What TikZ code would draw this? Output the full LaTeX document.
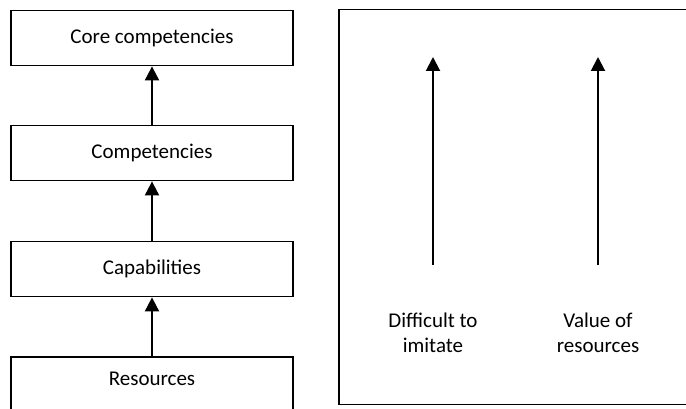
\documentclass[tikz,border=0pt]{standalone}
\usepackage{fontspec}
\setmainfont{Carlito}
\usetikzlibrary{arrows.meta}
\begin{document}
\begin{tikzpicture}[x=1pt,y=-1pt,
  level/.style={draw,line width=1.8pt,minimum width=282pt,minimum height=55pt,
    inner sep=0pt,font=\fontsize{21}{25}\selectfont},
  frame/.style={draw,line width=1.8pt,inner sep=0pt},
  up/.style={line width=2pt,-{Triangle[width=14pt,length=14pt]}},
  note/.style={align=center,font=\fontsize{21}{25}\selectfont}]
\useasboundingbox (0,0) rectangle (686,409);
\clip (0,0) rectangle (686,409);
% stacked levels, lowest one running off the page
\node[level] (core) at (152,38) {Core competencies};
\node[level] (comp) at (152,153) {Competencies};
\node[level] (capa) at (152,269) {Capabilities};
\node[level,minimum height=100pt,text depth=56pt] (res) at (152,407) {Resources};
\draw[up] (comp.north) -- (core.south);
\draw[up] (capa.north) -- (comp.south);
\draw[up] (res.north) -- (capa.south);
% right panel with two rising scales
\node[frame,minimum width=360pt,minimum height=395pt] (panel) at (519,207) {};
\coordinate (a1) at (433,265);
\coordinate (a2) at (433,57);
\coordinate (b1) at (598,265);
\coordinate (b2) at (598,57);
\draw[up] (a1) -- (a2);
\draw[up] (b1) -- (b2);
\node[note] (imit) at (433,333) {Difficult to\\imitate};
\node[note] (value) at (598,333) {Value of\\resources};
\end{tikzpicture}
\end{document}
